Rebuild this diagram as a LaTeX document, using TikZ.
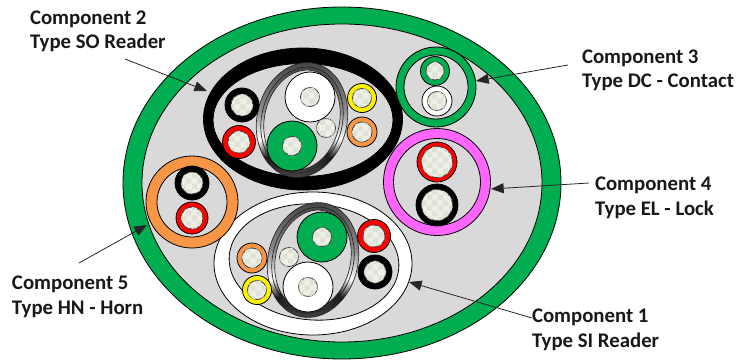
\documentclass[tikz,border=0pt]{standalone}
\usepackage{fontspec}
\setmainfont{Carlito}
\usetikzlibrary{arrows.meta,patterns}

\definecolor{jacketgreen}{HTML}{00AD50}
\definecolor{fillgray}{HTML}{D9D9D9}
\definecolor{ringorange}{HTML}{F79646}
\definecolor{ringpink}{HTML}{FF66FF}
\definecolor{coreface}{HTML}{EEF0E6}
\definecolor{corecheck}{HTML}{DFE3D6}

\pgfdeclarepatternformonly{corechecks}{\pgfqpoint{0pt}{0pt}}{\pgfqpoint{8pt}{8pt}}{\pgfqpoint{8pt}{8pt}}{
	\pgfpathrectangle{\pgfqpoint{0pt}{0pt}}{\pgfqpoint{4pt}{4pt}}
	\pgfpathrectangle{\pgfqpoint{4pt}{4pt}}{\pgfqpoint{4pt}{4pt}}
	\pgfusepath{fill}
}
\pgfdeclareverticalshading{metalring}{100bp}{
	color(0bp)=(black!70); color(25bp)=(black!70);
	color(35bp)=(black!90); color(42bp)=(white);
	color(54bp)=(black!45); color(75bp)=(black!75); color(100bp)=(black!75)
}

\tikzset{
	ring/.style = {draw=black, line width=0.6pt},
	core/.style = {draw=black!75, line width=0.6pt, fill=coreface,
		postaction={pattern=corechecks, pattern color=corecheck}},
	callout/.style = {font=\bfseries\fontsize{15.6}{18.4}\selectfont, align=left,
		anchor=base west, inner sep=0pt, outer sep=0pt, text=black!90},
	leader/.style = {draw=black!85, line width=0.6pt,
		-{Triangle[length=9.5pt,width=7.5pt]}}
}

% x y outer inner colour
\newcommand{\wire}[5]{
	\path[ring, fill=#5] (#1,#2) circle [radius=#3];
	\path[core] (#1,#2) circle [radius=#4];
}
% x y angle
\newcommand{\metalband}[3]{
	\path[draw=black!85, line width=0.5pt, shading=metalring] (#1,#2) circle [x radius=45, y radius=58, rotate=#3];
	\path[draw=black!85, line width=0.5pt, shading=metalring] (#1,#2) circle [x radius=40.5, y radius=53.5, rotate=#3];
	\path[draw=black!85, line width=0.5pt, fill=fillgray] (#1,#2) circle [x radius=37.5, y radius=50.5, rotate=#3];
}

\begin{document}
\begin{tikzpicture}[x=0.75pt, y=-0.75pt]
	\useasboundingbox (0,0) rectangle (746,360);

	% jacket
	\path[ring, fill=jacketgreen] (342,183) circle [x radius=219, y radius=176];
	\path[ring, fill=fillgray] (342,183) circle [x radius=200, y radius=159];

	% component 2
	\path[ring, fill=black] (303,119) circle [x radius=99.5, y radius=71];
	\path[ring, fill=fillgray] (303,120) circle [x radius=90, y radius=56.5];
	\metalband{302}{120}{-13}
	\wire{310}{97}{25}{9.5}{white}
	\wire{292}{146}{25}{9.5}{jacketgreen}
	\path[core] (326,128) circle [radius=9.5];
	\wire{242}{105}{17}{11}{black}
	\wire{239}{142}{16.5}{11}{red}
	\wire{362}{98}{14.5}{9.5}{yellow}
	\wire{362}{132}{15}{10}{ringorange}

	% component 1
	\path[ring, fill=white] (313,263.5) circle [x radius=99, y radius=71.5];
	\path[ring, fill=fillgray] (314,262) circle [x radius=85, y radius=58, rotate=-4];
	\metalband{313}{260}{-13}
	\wire{322}{237}{25}{9.5}{jacketgreen}
	\wire{308}{287}{25}{9.5}{white}
	\path[core] (289,257) circle [radius=9.5];
	\wire{252}{258}{15}{10}{ringorange}
	\wire{257}{290}{14.5}{9.5}{yellow}
	\wire{374}{236}{16.5}{11}{red}
	\wire{375}{272}{17}{11}{black}

	% component 3
	\path[ring, fill=jacketgreen] (436,87) circle [radius=40];
	\path[ring, fill=fillgray] (436,87) circle [radius=32];
	\wire{435}{71}{14.5}{9}{jacketgreen}
	\wire{437}{101}{15}{9.5}{white}

	% component 4
	\path[ring, fill=ringpink] (437,182) circle [radius=53.5];
	\path[ring, fill=fillgray] (437,182) circle [radius=43.5];
	\wire{437}{162}{20}{15.5}{red}
	\wire{437}{205}{21}{15.5}{black}

	% component 5
	\path[ring, fill=ringorange] (192,202) circle [radius=46];
	\path[ring, fill=fillgray] (192,202) circle [radius=35];
	\wire{192}{183}{17}{11}{black}
	\wire{192}{218}{16}{11}{red}

	% labels
	\node[callout] (comp2) at (30,49) {Component 2\\Type SO Reader};
	\node[callout] (comp3) at (582,88) {Component 3\\Type DC - Contact};
	\node[callout] (comp4) at (595,215) {Component 4\\Type EL - Lock};
	\node[callout] (comp1) at (532,347) {Component 1\\Type SI Reader};
	\node[callout] (comp5) at (12,314) {Component 5\\Type HN - Horn};

	% leaders
	\coordinate (from2) at (125,59);
	\coordinate (to2) at (207,91);
	\coordinate (from3) at (568,65);
	\coordinate (to3) at (476,81);
	\coordinate (from4) at (589,183);
	\coordinate (to4) at (491,189);
	\coordinate (from1) at (532,318);
	\coordinate (to1) at (409,282);
	\coordinate (from5) at (79,263);
	\coordinate (to5) at (147,225);
	\draw[leader] (from2) -- (to2);
	\draw[leader] (from3) -- (to3);
	\draw[leader] (from4) -- (to4);
	\draw[leader] (from1) -- (to1);
	\draw[leader] (from5) -- (to5);
\end{tikzpicture}
\end{document}
